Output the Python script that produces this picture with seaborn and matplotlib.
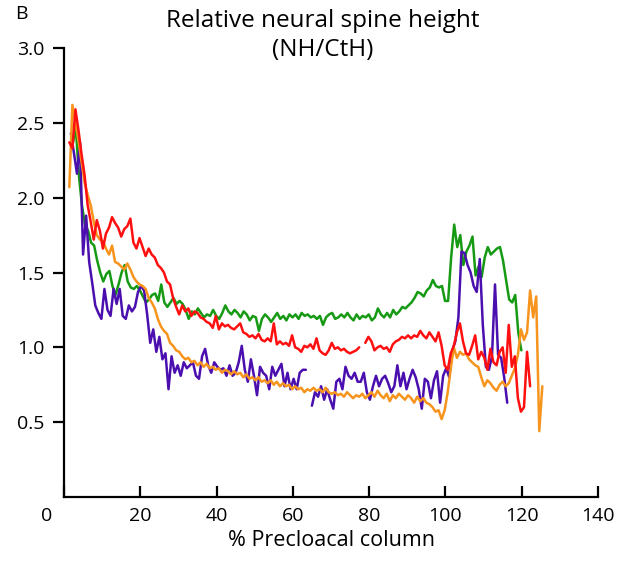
import numpy as np
import pandas as pd
import matplotlib
matplotlib.use("Agg")
import matplotlib.pyplot as plt
import matplotlib.transforms as mtransforms
import seaborn as sns

# ---------------- data ----------------
green_start, green_step = 2.3, 0.8
green_y = [2.36, 2.47, 2.15, 1.95, 1.82, 1.78, 1.70, 1.68, 1.58, 1.50,
           1.44, 1.49, 1.51, 1.41, 1.35, 1.42, 1.50, 1.55, 1.44, 1.40,
           1.39, 1.41, 1.38, 1.34, 1.30, 1.32, 1.35, 1.36, 1.31, 1.42,
           1.30, 1.27, 1.30, 1.33, 1.29, 1.31, 1.29, 1.25, 1.19, 1.24,
           1.22, 1.26, 1.23, 1.20, 1.22, 1.21, 1.25, 1.21, 1.19, 1.23,
           1.28, 1.24, 1.22, 1.25, 1.23, 1.20, 1.24, 1.22, 1.18, 1.21,
           1.20, 1.11, 1.19, 1.22, 1.20, 1.17, 1.20, 1.23, 1.19, 1.21,
           1.18, 1.22, 1.20, 1.22, 1.19, 1.23, 1.21, 1.22, 1.20, 1.21,
           1.19, 1.21, 1.15, 1.20, 1.22, 1.23, 1.19, 1.20, 1.22, 1.20,
           1.23, 1.20, 1.18, 1.22, 1.19, 1.21, 1.20, 1.22, 1.18, 1.20,
           1.26, 1.22, 1.20, 1.23, 1.20, 1.25, 1.22, 1.24, 1.27, 1.26,
           1.28, 1.30, 1.33, 1.37, 1.36, 1.34, 1.38, 1.40, 1.45, 1.41,
           1.40, 1.41, 1.31, 1.31, 1.60, 1.82, 1.67, 1.75, 1.55, 1.64,
           1.68, 1.74, 1.48, 1.54, 1.47, 1.60, 1.67, 1.62, 1.64, 1.66,
           1.67, 1.58, 1.45, 1.32, 1.30, 1.35, 1.10, 0.98]

red_start, red_step = 1.4, 0.8
red_y = [2.37, 2.33, 2.59, 2.45, 2.29, 2.15, 1.95, 1.84, 1.72, 1.85,
         1.78, 1.66, 1.76, 1.80, 1.87, 1.83, 1.80, 1.74, 1.79, 1.81,
         1.86, 1.70, 1.66, 1.73, 1.67, 1.61, 1.66, 1.62, 1.60, 1.55,
         1.53, 1.50, 1.44, 1.42, 1.33, 1.27, 1.22, 1.28, 1.24, 1.26,
         1.21, 1.24, 1.23, 1.20, 1.19, 1.17, 1.16, 1.13, 1.21, 1.12,
         1.16, 1.14, 1.15, 1.13, 1.12, 1.14, 1.16, 1.10, 1.09, 1.07,
         1.08, 1.06, 1.09, 1.05, 1.04, 1.06, 1.04, 1.16, 1.02, 1.04,
         1.02, 1.03, 1.01, 1.08, 1.00, 0.99, 0.97, 1.01, 1.00, 1.02,
         0.99, 1.06, 0.98, 0.96, 0.95, 0.98, 1.03, 0.99, 1.00, 0.98,
         0.99, 0.97, 0.96, 0.97, 0.98, 1.00, np.nan, 1.03, 1.07, 1.04,
         0.98, 1.00, 1.01, 0.99, 1.00, 0.97, 1.02, 1.04, 1.05, 1.07,
         1.06, 1.08, 1.06, 1.08, 1.07, 1.11, 1.08, 1.06, 1.10, 1.07,
         1.04, 1.10, 1.01, 0.88, 0.85, 0.96, 1.01, 1.10, 1.16, 1.04,
         0.96, 0.95, 1.01, 1.08, 0.92, 0.97, 0.93, 0.85, 0.99, 0.90,
         0.88, 0.97, 1.00, 0.83, 1.15, 0.87, 0.94, 0.66, 0.57, 0.60,
         0.97, 0.74]

orange_start, orange_step = 1.4, 0.8
orange_y = [2.07, 2.62, 2.50, 2.38, 2.24, 2.10, 2.02, 1.95, 1.84, 1.75,
            1.72, 1.71, 1.66, 1.62, 1.68, 1.57, 1.56, 1.54, 1.52, 1.56,
            1.52, 1.47, 1.44, 1.42, 1.41, 1.39, 1.33, 1.30, 1.26, 1.19,
            1.14, 1.11, 1.09, 1.03, 1.01, 0.98, 0.97, 0.94, 0.92, 0.93,
            0.90, 0.91, 0.88, 0.90, 0.87, 0.89, 0.86, 0.87, 0.85, 0.86,
            0.83, 0.85, 0.84, 0.82, 0.84, 0.82, 0.83, 0.80, 0.82, 0.79,
            0.80, 0.78, 0.80, 0.77, 0.78, 0.76, 0.78, 0.75, 0.77, 0.74,
            0.76, 0.74, 0.75, 0.72, 0.74, 0.72, 0.73, 0.70, 0.72, 0.71,
            0.73, 0.71, 0.72, 0.70, 0.73, 0.70, 0.69, 0.70, 0.68, 0.69,
            0.67, 0.70, 0.68, 0.66, 0.68, 0.67, 0.69, 0.66, 0.68, 0.70,
            0.67, 0.71, 0.68, 0.66, 0.69, 0.64, 0.68, 0.66, 0.69, 0.67,
            0.65, 0.68, 0.66, 0.63, 0.67, 0.64, 0.66, 0.63, 0.62, 0.60,
            0.57, 0.58, 0.52, 0.58, 0.70, 0.86, 1.00, 0.93, 0.97, 0.95,
            0.96, 0.92, 0.90, 0.88, 0.87, 0.80, 0.74, 0.78, 0.76, 0.73,
            0.71, 0.75, 0.77, 0.74, 0.76, 0.81, 0.86, 0.95, 1.12, 1.05,
            1.10, 1.38, 1.20, 1.34, 0.44, 0.74]

purple_start, purple_step = 1.8, 0.8
purple_y = [2.43, 2.30, 2.16, 2.37, 1.62, 1.88, 1.57, 1.43, 1.28, 1.23,
            1.19, 1.39, 1.25, 1.21, 1.39, 1.29, 1.39, 1.21, 1.19, 1.28,
            1.24, 1.27, 1.37, 1.41, 1.38, 1.22, 1.03, 1.12, 0.97, 1.07,
            0.92, 0.96, 0.72, 0.94, 0.83, 0.88, 0.81, 0.90, 0.86, 0.88,
            0.90, 0.81, 0.79, 0.94, 0.99, 0.88, 0.83, 0.90, 0.87, 0.85,
            0.86, 0.81, 0.88, 0.81, 0.83, 0.90, 1.01, 0.85, 0.77, 0.92,
            0.81, 0.68, 0.87, 0.83, 0.81, 0.72, 0.87, 0.81, 0.85, 0.89,
            0.74, 0.83, 0.72, 0.79, 0.72, 0.83, 0.85, 0.85, np.nan, 0.61,
            0.70, 0.67, 0.74, 0.65, 0.72, 0.65, 0.59, 0.77, 0.79, 0.72,
            0.87, 0.81, 0.79, 0.83, 0.77, 0.77, 0.83, 0.70, 0.65, 0.74,
            0.81, 0.74, 0.79, 0.81, 0.76, 0.70, 0.74, 0.88, 0.74, 0.83,
            0.72, 0.79, 0.85, 0.80, 0.72, 0.59, 0.79, 0.77, 0.66, 0.78,
            0.84, 0.63, 0.81, 0.86, 0.80, 0.98, 1.04, 1.20, 1.64, 1.63,
            1.55, 1.50, 1.41, 1.37, 1.59, 1.15, 0.87, 0.85, 0.94, 1.42,
            0.95, 0.93, 0.80, 0.63]

series = {
    "green": (green_start, green_step, green_y),
    "purple": (purple_start, purple_step, purple_y),
    "orange": (orange_start, orange_step, orange_y),
    "red": (red_start, red_step, red_y),
}
colors = {"green": "#169a14", "purple": "#4a0fae", "orange": "#f7941d", "red": "#ff1010"}

x_ticks = [0, 20, 40, 60, 80, 100, 120, 140]
y_ticks = [0.5, 1.0, 1.5, 2.0, 2.5, 3.0]

# ---------------- build long table with segments (NaN = gap) ----------------
rows = []
for name, (start, step, ys) in series.items():
    xs = start + step * np.arange(len(ys))
    seg = 0
    for xv, yv in zip(xs, ys):
        if np.isnan(yv):
            seg += 1
            continue
        rows.append({"series": name, "segment": f"{name}_{seg}", "x": xv, "y": yv})
df = pd.DataFrame(rows)

# ---------------- figure ----------------
sns.set_theme(style="white")
plt.rcParams["font.family"] = ["Open Sans", "DejaVu Sans"]
plt.rcParams.update({"text.color": "black", "axes.labelcolor": "black",
                     "xtick.color": "black", "ytick.color": "black",
                     "xtick.labelcolor": "black", "ytick.labelcolor": "black"})

fig = plt.figure(figsize=(6.24, 5.61), dpi=100)
ax = fig.add_axes([64 / 624, (561 - 497) / 561, (598 - 64) / 624, (497 - 48) / 561])

sns.lineplot(data=df, x="x", y="y", hue="series", units="segment",
             estimator=None, sort=False, palette=colors,
             hue_order=["green", "purple", "orange", "red"],
             linewidth=1.8, legend=False, ax=ax)

ax.set_xlim(0, 140)
ax.set_ylim(0, 3.0)
sns.despine(ax=ax)
for s in ("left", "bottom"):
    ax.spines[s].set_linewidth(1.6)
    ax.spines[s].set_color("black")
ax.spines["left"].set_bounds(0, 3.0)

ax.set_yticks(y_ticks)
ax.set_yticklabels([f"{v:.1f}" for v in y_ticks])
ax.set_xticks(x_ticks)
ax.set_xticklabels([str(v) for v in x_ticks])

ax.tick_params(axis="y", direction="out", length=8, width=1.6, pad=6,
               labelsize=14, colors="black", left=True)
ax.tick_params(axis="x", direction="in", length=8, width=1.6, pad=7,
               labelsize=14, colors="black", bottom=True)
# shift the "0" label to the left of the corner, as in the reference
lbl0 = ax.get_xticklabels()[0]
lbl0.set_transform(lbl0.get_transform() +
                   mtransforms.ScaledTranslation(-17 / 100, 0, fig.dpi_scale_trans))

ax.set_xlabel("% Precloacal column", fontsize=15.5, labelpad=4, color="black")
ax.set_ylabel("")

fig.text(323 / 624, 1 - 21 / 561, "Relative neural spine height",
         ha="center", va="center", fontsize=17.5, color="black")
fig.text(323 / 624, 1 - 50 / 561, "(NH/CtH)",
         ha="center", va="center", fontsize=17.5, color="black")
fig.text(15 / 624, 1 - 14 / 561, "B", ha="left", va="center", fontsize=14,
         color="black")

fig.savefig("out.png", dpi=100)
